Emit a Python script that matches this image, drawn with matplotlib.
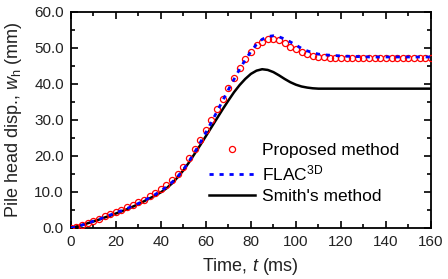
import numpy as np
import matplotlib
matplotlib.use('Agg')
import matplotlib.pyplot as plt
from matplotlib.ticker import MultipleLocator, FormatStrFormatter

plt.rcParams['font.family'] = ['Liberation Sans', 'DejaVu Sans']
plt.rcParams['mathtext.fontset'] = 'custom'
plt.rcParams['mathtext.rm'] = 'Liberation Sans'
plt.rcParams['mathtext.it'] = 'Liberation Sans:italic'
plt.rcParams['lines.scale_dashes'] = False

# time (ms), 2.5 ms steps
t = np.arange(0, 160.1, 2.5)

proposed = [0.0, 0.4, 0.9, 1.4, 2.0, 2.6, 3.2, 3.8, 4.4, 5.0,
            5.7, 6.4, 7.1, 7.9, 8.8, 9.7, 10.7, 11.9, 13.3, 15.0,
            17.0, 19.3, 21.8, 24.5, 27.2, 30.1, 33.0, 35.9, 38.8, 41.7,
            44.4, 46.9, 49.0, 50.7, 51.8, 52.4, 52.5, 52.1, 51.3, 50.4,
            49.6, 48.9, 48.4, 47.9, 47.6, 47.4, 47.3, 47.2, 47.2, 47.2,
            47.2, 47.2, 47.2, 47.2, 47.2, 47.2, 47.2, 47.2, 47.2, 47.2,
            47.2, 47.2, 47.2, 47.2, 47.2]

flac = [0.0, 0.3, 0.8, 1.3, 1.9, 2.4, 3.0, 3.6, 4.2, 4.8,
        5.4, 6.1, 6.8, 7.6, 8.4, 9.3, 10.3, 11.4, 12.7, 14.3,
        16.2, 18.5, 21.0, 23.7, 26.5, 29.4, 32.4, 35.4, 38.4, 41.3,
        44.1, 46.7, 49.0, 51.0, 52.4, 53.2, 53.4, 53.1, 52.5, 51.7,
        50.8, 49.9, 49.2, 48.7, 48.3, 48.1, 48.0, 47.9, 47.8, 47.7,
        47.7, 47.6, 47.6, 47.5, 47.5, 47.5, 47.5, 47.5, 47.5, 47.5,
        47.5, 47.5, 47.5, 47.5, 47.5]

smith = [0.0, 0.4, 0.8, 1.3, 1.8, 2.3, 2.9, 3.4, 4.0, 4.6,
         5.2, 5.9, 6.6, 7.4, 8.2, 9.0, 9.9, 11.0, 12.4, 14.1,
         16.0, 18.2, 20.6, 23.0, 25.5, 28.0, 30.5, 33.0, 35.4, 37.7,
         39.7, 41.4, 42.8, 43.7, 44.1, 43.9, 43.3, 42.4, 41.4, 40.5,
         39.8, 39.3, 39.0, 38.8, 38.7, 38.7, 38.7, 38.7, 38.7, 38.7,
         38.7, 38.7, 38.7, 38.7, 38.7, 38.7, 38.7, 38.7, 38.7, 38.7,
         38.7, 38.7, 38.7, 38.7, 38.7]

fig = plt.figure(figsize=(4.48, 2.79), dpi=100)
ax = fig.add_axes([0.158, 0.183, 0.804, 0.774])

ax.plot(t, proposed, 'o', mfc='none', mec='red', ms=4.4, mew=0.9,
        label='Proposed method', zorder=3)
ax.plot(t, flac, color='blue', lw=2.0, dashes=(3, 4.2),
        label='FLAC$^{\\mathrm{3D}}$', zorder=4)
ax.plot(t, smith, color='black', lw=1.8, label="Smith's method", zorder=2)

ax.set_xlim(0, 160)
ax.set_ylim(0, 60)
ax.xaxis.set_major_locator(MultipleLocator(20))
ax.xaxis.set_minor_locator(MultipleLocator(10))
ax.yaxis.set_major_locator(MultipleLocator(10))
ax.yaxis.set_minor_locator(MultipleLocator(5))
ax.yaxis.set_major_formatter(FormatStrFormatter('%.1f'))
ax.tick_params(which='both', direction='in', top=True, right=True,
               labelsize=11, width=1.2, labelcolor='#222222')
ax.tick_params(which='major', length=5, pad=5)
ax.tick_params(which='minor', length=3)
for s in ax.spines.values():
    s.set_linewidth(1.3)

ax.set_xlabel('Time, $t$ (ms)', fontsize=13, labelpad=5, color='#222222')
ax.set_ylabel('Pile head disp., $w_\\mathrm{h}$ (mm)', fontsize=13,
              labelpad=7, color='#222222')

ax.legend(loc='lower right', bbox_to_anchor=(0.93, 0.08), frameon=False,
          fontsize=12.5, numpoints=1, handlelength=2.6, handletextpad=0.4,
          labelspacing=0.3, borderaxespad=0)

fig.savefig('out.png', dpi=100)
